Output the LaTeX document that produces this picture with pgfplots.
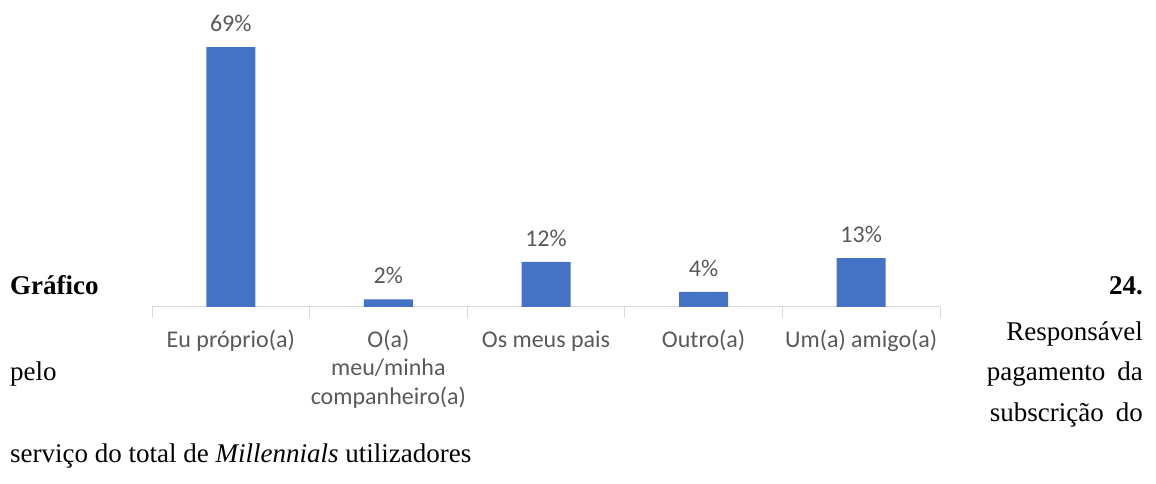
\documentclass[border=0pt]{standalone}
\usepackage{pgfplots}
\pgfplotsset{compat=1.18}
\usepackage{fontspec}
\setmainfont{Liberation Serif}
\newfontfamily\chartfont{Carlito}
\definecolor{barblue}{HTML}{4472C4}
\definecolor{txtgray}{HTML}{595959}
\definecolor{axgray}{HTML}{D9D9D9}
\begin{document}
\begin{tikzpicture}[x=1pt,y=1pt]
\useasboundingbox (0,0) rectangle (1156,484);
\begin{axis}[
  at={(152pt,177pt)}, anchor=south west,
  scale only axis, width=788pt, height=260pt,
  xmin=-0.5, xmax=4.5, ymin=0, ymax=69,
  clip=false,
  /pgf/number format/assume math mode=true,
  axis x line=bottom, axis y line=none,
  axis line style={axgray, line width=1pt, -},
  xtick={0,1,2,3,4},
  xticklabels={\strut Eu próprio(a), {\strut O(a)\\meu/minha\\companheiro(a)}, \strut Os meus pais, \strut Outro(a), \strut Um(a) amigo(a)},
  major tick length=0pt,
  minor xtick={-0.5,0.5,1.5,2.5,3.5,4.5},
  minor tick length=11pt,
  tick align=outside,
  minor tick style={axgray, line width=1pt},
  xticklabel style={font=\chartfont\fontsize{24}{28.5}\selectfont, text=txtgray, align=center, yshift=-17pt},
  ybar, bar width=49pt,
  nodes near coords={\pgfmathprintnumber[assume math mode=true]{\pgfplotspointmeta}\%},
  nodes near coords style={font=\chartfont\fontsize{24}{28}\selectfont, text=txtgray, anchor=south, yshift=12pt},
]
\addplot[fill=barblue, draw=none] coordinates {(0,69) (1,2) (2,12) (3,4) (4,13)};
\end{axis}
\fontsize{27}{41}\selectfont
\node[anchor=base west, inner sep=0] at (10,189) {\textbf{Gráfico}};
\node[anchor=base east, inner sep=0] at (1143,189) {\textbf{24.}};
\node[anchor=base east, inner sep=0] at (1143,143) {Responsável};
\node[anchor=base west, inner sep=0] at (10,103) {pelo};
\node[anchor=base east, inner sep=0] at (1143,103) {pagamento\hspace{12pt}da};
\node[anchor=base east, inner sep=0] at (1143,62) {subscrição\hspace{12pt}do};
\node[anchor=base west, inner sep=0] at (10,21) {serviço do total de \textit{Millennials} utilizadores};
\end{tikzpicture}
\end{document}
